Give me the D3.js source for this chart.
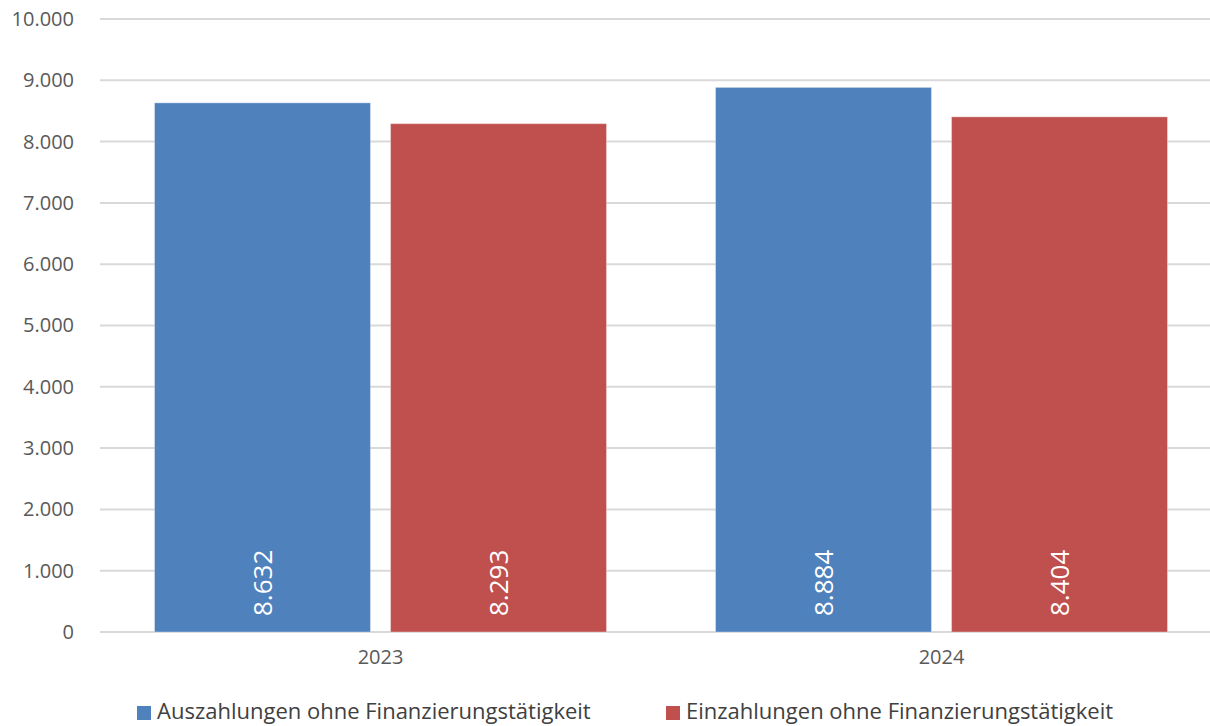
<!DOCTYPE html>
<html>
<head>
  <meta charset="utf-8">
  <script src="https://d3js.org/d3.v7.min.js"></script>
  <style type="text/css">
    body { margin: 0; background: #fff; }
    svg text { font-family: "Open Sans", sans-serif; }
  </style>
</head>
<body>
<svg id="chart" width="1210" height="726"></svg>
<script>
  // data
  const years = ['2023', '2024'];
  const seriesNames = ['Auszahlungen ohne Finanzierungstätigkeit', 'Einzahlungen ohne Finanzierungstätigkeit'];
  const auszahlungen = [8632, 8884];
  const einzahlungen = [8293, 8404];
  const colors = ['#4F81BD', '#C0504D'];
  const yTicks = [0, 1000, 2000, 3000, 4000, 5000, 6000, 7000, 8000, 9000, 10000];

  const de = d3.formatLocale({ decimal: ',', thousands: '.', grouping: [3], currency: ['', ' €'] });
  const fmt = de.format(',d');

  const chart = d3.select('#chart');
  const margin = { top: 19, left: 100 };
  const width = 1122;
  const height = 613;
  const g = chart.append('g').attr('transform', `translate(${margin.left} ${margin.top})`);

  const x = d3.scaleBand().domain(years).range([0, width]);
  const xs = d3.scaleBand().domain([0, 1]).range([54.5, x.bandwidth() - 54.5]).paddingInner(0.085);
  const y = d3.scaleLinear().domain([0, 10000]).range([height, 0]);

  // gridlines
  g.append('g')
    .selectAll('line')
    .data(yTicks)
    .join('line')
    .attr('x1', 0).attr('x2', width)
    .attr('y1', d => y(d)).attr('y2', d => y(d))
    .attr('stroke', '#D9D9D9')
    .attr('stroke-width', 2);

  // y axis labels
  const yAxis = g.append('g')
    .call(d3.axisLeft(y).tickValues(yTicks).tickFormat(fmt).tickSize(0).tickPadding(26));
  yAxis.select('.domain').remove();
  yAxis.selectAll('text').attr('font-size', 20).attr('fill', '#595959')
    .style('font-family', '"Open Sans", sans-serif');

  // x axis labels
  const xAxis = g.append('g')
    .attr('transform', `translate(0 ${height})`)
    .call(d3.axisBottom(x).tickSize(0).tickPadding(18));
  xAxis.select('.domain').remove();
  xAxis.selectAll('text').attr('font-size', 20).attr('fill', '#595959')
    .style('font-family', '"Open Sans", sans-serif');

  const rows = [];
  years.forEach((yr, i) => {
    rows.push({ year: yr, s: 0, v: auszahlungen[i] });
    rows.push({ year: yr, s: 1, v: einzahlungen[i] });
  });

  // bars
  g.append('g')
    .selectAll('rect')
    .data(rows)
    .join('rect')
    .attr('x', d => x(d.year) + xs(d.s))
    .attr('width', xs.bandwidth())
    .attr('y', d => y(d.v))
    .attr('height', d => y(0) - y(d.v))
    .attr('fill', d => colors[d.s])
    .attr('stroke', 'rgba(255,255,255,0.35)')
    .attr('stroke-width', 1);

  // value labels
  g.append('g')
    .selectAll('text')
    .data(rows)
    .join('text')
    .attr('transform', d => `translate(${x(d.year) + xs(d.s) + xs.bandwidth() / 2} ${y(0) - 16}) rotate(-90)`)
    .attr('dy', '0.35em')
    .attr('text-anchor', 'start')
    .attr('font-size', 26)
    .attr('fill', '#fff')
    .text(d => de.format(',.3f')(d.v / 1000).replace(',', '.'));

  // legend
  const legendX = [137, 666];
  const legend = chart.append('g');
  seriesNames.forEach((name, i) => {
    legend.append('rect')
      .attr('x', legendX[i]).attr('y', 706)
      .attr('width', 14).attr('height', 14)
      .attr('fill', colors[i]);
    legend.append('text')
      .attr('x', legendX[i] + 20).attr('y', 711)
      .attr('dy', '0.35em')
      .attr('font-size', 22)
      .attr('fill', '#404040')
      .text(name);
  });
</script>
</body>
</html>
